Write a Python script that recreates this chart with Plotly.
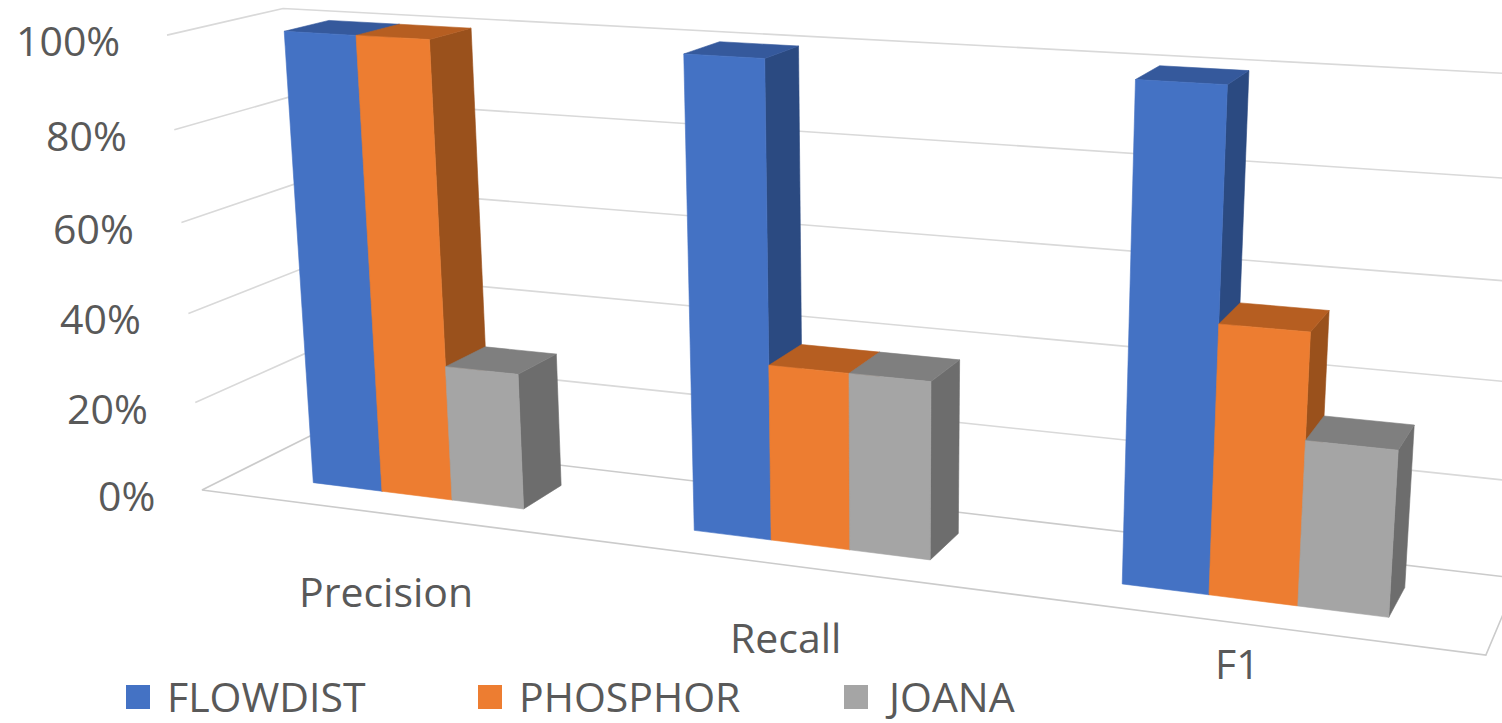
import numpy as np
import plotly.graph_objects as go

# ---- data -------------------------------------------------------------
categories = ["Precision", "Recall", "F1"]
series_names = ["FLOWDIST", "PHOSPHOR", "JOANA"]
flowdist = [100, 100, 100]
phosphor = [100, 37.5, 54.5]
joana = [30, 37.5, 33.3]
tick_values = [0, 20, 40, 60, 80, 100]
tick_labels = ["0%", "20%", "40%", "60%", "80%", "100%"]

series_values = [flowdist, phosphor, joana]

# ---- style ------------------------------------------------------------
FRONT = ["#4472C4", "#ED7D31", "#A5A5A5"]
TOP = ["#35599C", "#B65E21", "#7F7F7F"]
SIDE = ["#2B4A81", "#9A511C", "#6D6D6D"]
GRID = "#D9D9D9"
FLOOR_LINE = "#CBCBCB"
TEXT = "#595959"
FONT = "Open Sans"
FONT_SIZE = 41
W, H = 1502, 723

# ---- 3-D box layout (units: one bar width) ----------------------------
BAR_W = 1.0
GAP = 2.3
CAT_W = len(series_names) * BAR_W + GAP
X_END = len(categories) * CAT_W
FLOOR_D = 2.5
BAR_Y0, BAR_Y1 = 0.75, 1.75
Z_MAX = 100.0

# Perspective camera built from the three vanishing points (pixels)
VP_X = (-6239.0, -338.0)
VP_Y = (1917.0, -367.0)
VP_Z = (890.0, 9433.0)
ORIGIN = (202.0, 490.0)
KX = -0.1662 / X_END
KY = 0.0676 / FLOOR_D
KZ = -0.0484 / Z_MAX
CAM = np.array([
    [KX * VP_X[0], KY * VP_Y[0], KZ * VP_Z[0], ORIGIN[0]],
    [KX * VP_X[1], KY * VP_Y[1], KZ * VP_Z[1], ORIGIN[1]],
    [KX, KY, KZ, 1.0],
])


def project(pts):
    p = np.asarray(pts, dtype=float)
    h = np.hstack([p, np.ones((len(p), 1))]) @ CAM.T
    return h[:, 0] / h[:, 2], h[:, 1] / h[:, 2]


fig = go.Figure()


def polyline(pts, color, width, dash=None):
    u, v = project(pts)
    fig.add_trace(go.Scatter(x=u, y=v, mode="lines",
                             line=dict(color=color, width=width, dash=dash),
                             hoverinfo="skip", showlegend=False))


def face(pts, color):
    pts = list(pts) + [pts[0]]
    u, v = project(pts)
    fig.add_trace(go.Scatter(x=u, y=v, mode="lines", fill="toself",
                             fillcolor=color,
                             line=dict(color=color, width=0.6),
                             hoverinfo="skip", showlegend=False))


# ---- walls and floor ---------------------------------------------------
for t in tick_values:
    if t == 0:
        continue
    polyline([(0, 0, t), (0, FLOOR_D, t), (X_END, FLOOR_D, t)], GRID, 1.6)
# floor outline
polyline([(0, FLOOR_D, 0), (0, 0, 0), (X_END, 0, 0), (X_END, FLOOR_D, 0),
          (0, FLOOR_D, 0)], FLOOR_LINE, 1.6)

# ---- bars (back to front: increasing X) --------------------------------
for ci, cat in enumerate(categories):
    for si, vals in enumerate(series_values):
        z = vals[ci]
        x0 = ci * CAT_W + GAP / 2 + si * BAR_W
        x1 = x0 + BAR_W
        y0, y1 = BAR_Y0, BAR_Y1
        face([(x1, y0, 0), (x1, y1, 0), (x1, y1, z), (x1, y0, z)], SIDE[si])
        face([(x0, y0, z), (x1, y0, z), (x1, y1, z), (x0, y1, z)], TOP[si])
        face([(x0, y0, 0), (x1, y0, 0), (x1, y0, z), (x0, y0, z)], FRONT[si])

# ---- axis tick labels --------------------------------------------------
annotations = []
for t, lab in zip(tick_values, tick_labels):
    u, v = project([(0, 0, t)])
    annotations.append(dict(x=u[0] - 45, y=v[0] + 5, text=lab, showarrow=False,
                            xanchor="right", yanchor="middle",
                            font=dict(family=FONT, size=FONT_SIZE, color=TEXT)))

# category labels sit below the front edge of the floor
CAT_DY = [77, 72, 40]
for ci, cat in enumerate(categories):
    u, v = project([(ci * CAT_W + CAT_W / 2, 0, 0)])
    annotations.append(dict(x=u[0], y=v[0] + CAT_DY[ci], text=cat,
                            showarrow=False, xanchor="center", yanchor="middle",
                            font=dict(family=FONT, size=FONT_SIZE, color=TEXT)))

# ---- legend ------------------------------------------------------------
LEGEND_X = [126, 478, 844]
LEGEND_Y = 696
SWATCH = 24
shapes = []
for si, name in enumerate(series_names):
    lx = LEGEND_X[si]
    shapes.append(dict(type="rect", xref="x", yref="y",
                       x0=lx, x1=lx + SWATCH,
                       y0=LEGEND_Y + 1 - SWATCH / 2, y1=LEGEND_Y + 1 + SWATCH / 2,
                       fillcolor=FRONT[si], line=dict(width=0)))
    annotations.append(dict(x=lx + SWATCH + 15, y=LEGEND_Y, text=name,
                            showarrow=False, xanchor="left", yanchor="middle",
                            font=dict(family=FONT, size=FONT_SIZE, color=TEXT)))

fig.update_layout(
    width=W, height=H,
    margin=dict(l=0, r=0, t=0, b=0),
    paper_bgcolor="white", plot_bgcolor="white",
    xaxis=dict(range=[0, W], visible=False, fixedrange=True),
    yaxis=dict(range=[H, 0], visible=False, fixedrange=True),
    annotations=annotations, shapes=shapes,
    hovermode=False, showlegend=False,
)

fig.write_html("out.html", config={"displayModeBar": False})
